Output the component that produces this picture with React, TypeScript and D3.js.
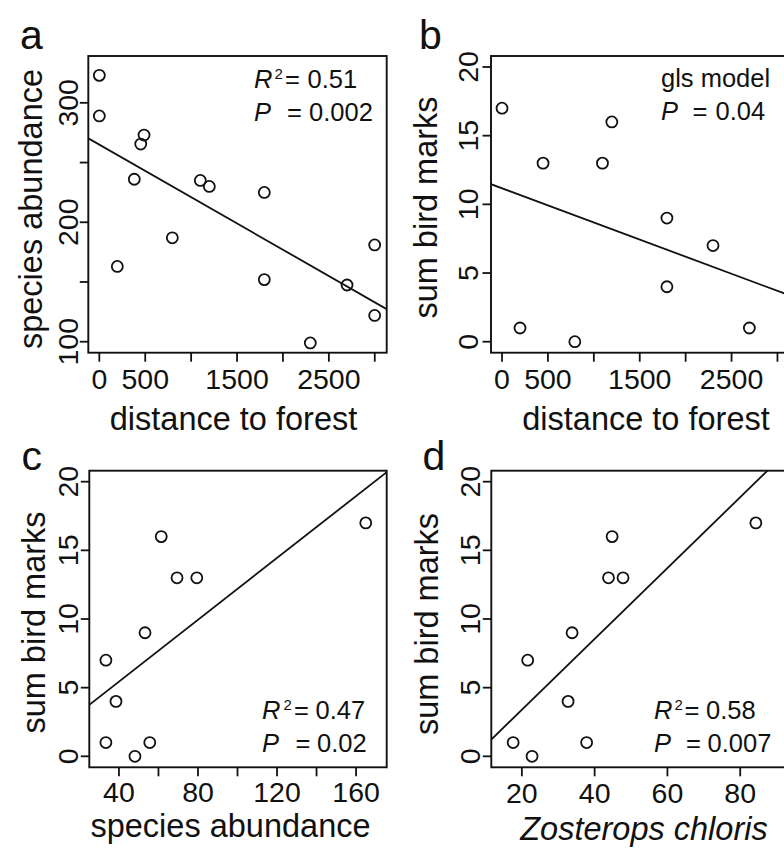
import React from 'react';
import * as d3 from 'd3';

const FONT = "'Liberation Sans', Arial, Helvetica, sans-serif";

// ---- Panel a: species abundance vs distance to forest ----
const aDistance = [0, 0, 487, 451, 381, 196, 795, 1100, 1198, 1797, 1797, 2298, 2698, 2999, 2999];
const aAbundance = [323, 289, 273, 265.5, 236, 163, 187, 235, 230, 225, 152, 99, 147.5, 181, 122];
const aFit = { intercept: 265, slope: -0.044 };

// ---- Panel b: sum bird marks vs distance to forest ----
const bDistance = [0, 196, 447, 793, 1094, 1196, 1796, 1796, 2298, 2694];
const bMarks = [17, 1, 13, 0, 13, 16, 9, 4, 7, 1];
const bFit = { intercept: 11.17, slope: -0.00249 };

// ---- Panel c: sum bird marks vs species abundance ----
const cAbundance = [33.4, 38.5, 33.4, 48.1, 55.6, 53.2, 61.4, 69.4, 79.4, 164.9];
const cMarks = [7, 4, 1, 0, 1, 9, 16, 13, 13, 17];
const cFit = { intercept: 0.935, slope: 0.1126 };

// ---- Panel d: sum bird marks vs Zosterops chloris ----
const dZosterops = [21.6, 32.7, 17.6, 22.8, 37.8, 33.8, 44.8, 43.8, 47.8, 84.3];
const dMarks = [7, 4, 1, 0, 1, 9, 16, 13, 13, 17];
const dFit = { intercept: -1.77, slope: 0.258 };

// ---- Ticks ----
const distanceTicks = [0, 500, 1000, 1500, 2000, 2500, 3000];
const distanceLabels = [0, 500, 1500, 2500];
const abundanceYTicks = [100, 150, 200, 250, 300];
const abundanceYLabels = [100, 200, 300];
const marksTicks = [0, 5, 10, 15, 20];
const marksLabels = [0, 5, 10, 15, 20];
const abundanceXTicks = [40, 60, 80, 100, 120, 140, 160];
const abundanceXLabels = [40, 80, 120, 160];
const zosteropsTicks = [20, 40, 60, 80];
const zosteropsLabels = [20, 40, 60, 80];

const INK = '#111';
const TICK_FONT = 28.5;
const STAT_FONT = 25.5;

type Box = { x0: number; y0: number; x1: number; y1: number };

type PanelProps = {
  id: string;
  box: Box;
  xDomain: [number, number];
  yDomain: [number, number];
  xTicks: number[];
  xLabels: number[];
  yTicks: number[];
  yLabels: number[];
  xs: number[];
  ys: number[];
  fit: { intercept: number; slope: number };
  letter: string;
  letterPos: [number, number];
  xTitle: string;
  xTitleItalic?: boolean;
  xTitlePos: [number, number];
  yTitle: string;
  yTitlePos: [number, number];
  yTickBaseline: number;
  xTickBaseline: number;
  children?: React.ReactNode;
};

function Panel(p: PanelProps) {
  const { box } = p;
  const x = d3.scaleLinear().domain(p.xDomain).range([box.x0, box.x1]);
  const y = d3.scaleLinear().domain(p.yDomain).range([box.y1, box.y0]);
  const lineGen = d3
    .line<number>()
    .x((d) => x(d))
    .y((d) => y(p.fit.intercept + p.fit.slope * d));
  const clipId = 'clip-' + p.id;
  return (
    <g>
      <defs>
        <clipPath id={clipId}>
          <rect x={box.x0} y={box.y0} width={box.x1 - box.x0} height={box.y1 - box.y0} />
        </clipPath>
      </defs>
      <rect
        x={box.x0}
        y={box.y0}
        width={box.x1 - box.x0}
        height={box.y1 - box.y0}
        fill="none"
        stroke={INK}
        strokeWidth={1.9}
      />
      {p.xTicks.map((t) => (
        <line key={'xt' + t} x1={x(t)} x2={x(t)} y1={box.y1} y2={box.y1 + 9} stroke={INK} strokeWidth={1.8} />
      ))}
      {p.xLabels.map((t) => (
        <text key={'xl' + t} x={x(t)} y={p.xTickBaseline} textAnchor="middle" fontSize={TICK_FONT} fontFamily={FONT} fill={INK}>
          {t}
        </text>
      ))}
      {p.yTicks.map((t) => (
        <line key={'yt' + t} x1={box.x0 - 8.5} x2={box.x0} y1={y(t)} y2={y(t)} stroke={INK} strokeWidth={1.8} />
      ))}
      {p.yLabels.map((t) => (
        <text
          key={'yl' + t}
          transform={`translate(${p.yTickBaseline},${y(t)}) rotate(-90)`}
          textAnchor="middle"
          fontSize={TICK_FONT}
          fontFamily={FONT}
          fill={INK}
        >
          {t}
        </text>
      ))}
      <path
        d={lineGen(p.xDomain) || ''}
        fill="none"
        stroke={INK}
        strokeWidth={1.8}
        clipPath={`url(#${clipId})`}
      />
      {p.xs.map((v, i) => (
        <circle key={'pt' + i} cx={x(v)} cy={y(p.ys[i])} r={5.5} fill="none" stroke={INK} strokeWidth={1.8} />
      ))}
      <text
        x={p.xTitlePos[0]}
        y={p.xTitlePos[1]}
        textAnchor="middle"
        fontSize={32.5}
        fontFamily={FONT}
        fontStyle={p.xTitleItalic ? 'italic' : 'normal'}
        fill={INK}
      >
        {p.xTitle}
      </text>
      <text
        transform={`translate(${p.yTitlePos[0]},${p.yTitlePos[1]}) rotate(-90)`}
        textAnchor="middle"
        fontSize={32.5}
        fontFamily={FONT}
        fill={INK}
      >
        {p.yTitle}
      </text>
      <text x={p.letterPos[0]} y={p.letterPos[1]} fontSize={41} fontFamily={FONT} fill={INK}>
        {p.letter}
      </text>
      {p.children}
    </g>
  );
}

function Stat(props: { x: number; eqX: number; valX: number; y: number; label: string; sup?: string; supX?: number; value: string }) {
  return (
    <g fontFamily={FONT} fontSize={STAT_FONT} fill={INK}>
      <text x={props.x} y={props.y} fontStyle="italic">
        {props.label}
      </text>
      {props.sup && (
        <text x={props.supX} y={props.y - 9} fontSize={15}>
          {props.sup}
        </text>
      )}
      <text x={props.eqX} y={props.y}>=</text>
      <text x={props.valX} y={props.y}>{props.value}</text>
    </g>
  );
}

export default function App() {
  return (
    <svg
      width={784}
      height={848}
      viewBox="0 0 784 848"
      style={{ position: 'absolute', left: 0, top: 0, background: '#fff' }}
    >
      <rect x={0} y={0} width={784} height={848} fill="#fff" />
      <Panel
        id="a"
        box={{ x0: 88.3, y0: 56, x1: 386.7, y1: 352.7 }}
        xDomain={[-120, 3130]}
        yDomain={[90.8, 339.2]}
        xTicks={distanceTicks}
        xLabels={distanceLabels}
        yTicks={abundanceYTicks}
        yLabels={abundanceYLabels}
        xs={aDistance}
        ys={aAbundance}
        fit={aFit}
        letter="a"
        letterPos={[20, 49]}
        xTitle="distance to forest"
        xTitlePos={[233.5, 430]}
        yTitle="species abundance"
        yTitlePos={[42, 209]}
        yTickBaseline={78}
        xTickBaseline={389}
      >
        <Stat x={254} supX={274.5} eqX={285} valX={307.5} y={88.3} label="R" sup="2" value="0.51" />
        <Stat x={254} eqX={287} valX={309} y={120.5} label="P" value="0.002" />
      </Panel>
      <Panel
        id="b"
        box={{ x0: 491, y0: 56, x1: 789.4, y1: 352.7 }}
        xDomain={[-120, 3130]}
        yDomain={[-0.8, 20.8]}
        xTicks={distanceTicks}
        xLabels={distanceLabels}
        yTicks={marksTicks}
        yLabels={marksLabels}
        xs={bDistance}
        ys={bMarks}
        fit={bFit}
        letter="b"
        letterPos={[419, 49]}
        xTitle="distance to forest"
        xTitlePos={[646, 430]}
        yTitle="sum bird marks"
        yTitlePos={[437, 207.5]}
        yTickBaseline={478}
        xTickBaseline={388.5}
      >
        <text x={661} y={87} fontFamily={FONT} fontSize={STAT_FONT} fill={INK}>
          gls model
        </text>
        <Stat x={661} eqX={692.5} valX={715.5} y={119.5} label="P" value="0.04" />
      </Panel>
      <Panel
        id="c"
        box={{ x0: 89.3, y0: 470.7, x1: 386.7, y1: 767.3 }}
        xDomain={[25, 175.5]}
        yDomain={[-0.8, 20.8]}
        xTicks={abundanceXTicks}
        xLabels={abundanceXLabels}
        yTicks={marksTicks}
        yLabels={marksLabels}
        xs={cAbundance}
        ys={cMarks}
        fit={cFit}
        letter="c"
        letterPos={[21.5, 470]}
        xTitle="species abundance"
        xTitlePos={[230.5, 837]}
        yTitle="sum bird marks"
        yTitlePos={[45, 622.5]}
        yTickBaseline={78}
        xTickBaseline={801.7}
      >
        <Stat x={262} supX={283.5} eqX={294} valX={315.5} y={719} label="R" sup="2" value="0.47" />
        <Stat x={262} eqX={295.5} valX={317} y={751.7} label="P" value="0.02" />
      </Panel>
      <Panel
        id="d"
        box={{ x0: 491.3, y0: 470.7, x1: 789.7, y1: 767.3 }}
        xDomain={[11.6, 93.6]}
        yDomain={[-0.8, 20.8]}
        xTicks={zosteropsTicks}
        xLabels={zosteropsLabels}
        yTicks={marksTicks}
        yLabels={marksLabels}
        xs={dZosterops}
        ys={dMarks}
        fit={dFit}
        letter="d"
        letterPos={[422.5, 470]}
        xTitle="Zosterops chloris"
        xTitleItalic
        xTitlePos={[644, 840]}
        yTitle="sum bird marks"
        yTitlePos={[438, 624]}
        yTickBaseline={480}
        xTickBaseline={803}
      >
        <Stat x={654} supX={674.5} eqX={684.5} valX={706} y={719} label="R" sup="2" value="0.58" />
        <Stat x={654} eqX={686} valX={707.5} y={751.7} label="P" value="0.007" />
      </Panel>
    </svg>
  );
}
